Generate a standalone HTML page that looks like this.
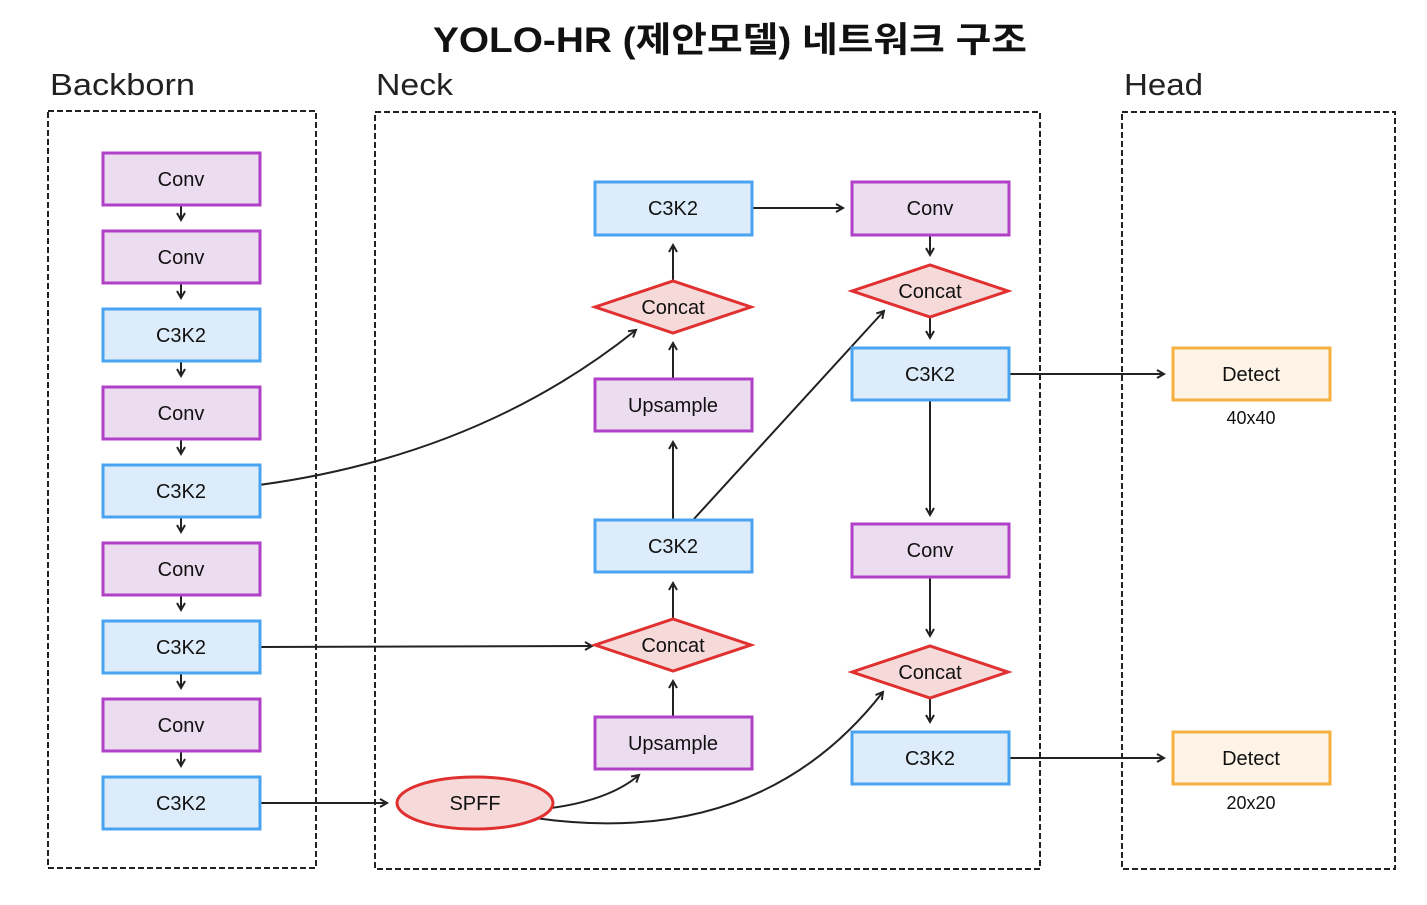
<!DOCTYPE html>
<html><head><meta charset="utf-8"><style>html,body{margin:0;padding:0;background:#fff}</style></head><body>
<svg width="1427" height="900" viewBox="0 0 1427 900" xmlns="http://www.w3.org/2000/svg" font-family="Liberation Sans, Noto Sans CJK KR, sans-serif">
<defs><marker id="a" markerWidth="10" markerHeight="10" refX="8" refY="5" orient="auto" markerUnits="userSpaceOnUse"><path d="M1,1 L8,5 L1,9" fill="none" stroke="#222" stroke-width="2"/></marker></defs>
<rect width="1427" height="900" fill="#fff"/>
<text x="433" y="52" textLength="594" lengthAdjust="spacingAndGlyphs" font-size="35" font-weight="bold" fill="#111">YOLO-HR (제안모델) 네트워크 구조</text>
<text x="50" y="95" textLength="145" lengthAdjust="spacingAndGlyphs" font-size="31" fill="#222">Backborn</text>
<text x="376" y="95" textLength="77" lengthAdjust="spacingAndGlyphs" font-size="31" fill="#222">Neck</text>
<text x="1124" y="95" textLength="79" lengthAdjust="spacingAndGlyphs" font-size="31" fill="#222">Head</text>
<g fill="none" stroke="#222" stroke-width="2" stroke-dasharray="6,3">
<rect x="48" y="111" width="268" height="757"/><rect x="375" y="112" width="665" height="757"/><rect x="1122" y="112" width="273" height="757"/></g>
<g stroke="#222" stroke-width="2" fill="none" marker-end="url(#a)">
<path d="M181,205V220"/><path d="M181,283V298"/><path d="M181,361V376"/><path d="M181,439V454"/><path d="M181,517V532"/><path d="M181,595V610"/><path d="M181,673V688"/><path d="M181,751V766"/>
<path d="M260,803H387"/>
<path d="M259,485 Q480,455 636,330"/>
<path d="M258,647 L592,646"/>
<path d="M551,808 Q610,800 639,775"/>
<path d="M535,818 Q760,850 883,692"/>
<path d="M673,717V681"/><path d="M673,619V583"/><path d="M673,520V442"/><path d="M673,379V343"/><path d="M673,281V245"/>
<path d="M693,520 L884,311"/>
<path d="M752,208H843"/>
<path d="M930,235V255"/><path d="M930,317V338"/><path d="M930,400V515"/><path d="M930,577V636"/><path d="M930,698V722"/>
<path d="M1009,374H1164"/><path d="M1009,758H1164"/>
</g>
<g stroke-width="3" font-size="20" text-anchor="middle" fill="#111">
<g stroke="#b040c8" fill="#ecdcf0">
<rect x="103" y="153" width="157" height="52"/><rect x="103" y="231" width="157" height="52"/><rect x="103" y="387" width="157" height="52"/><rect x="103" y="543" width="157" height="52"/><rect x="103" y="699" width="157" height="52"/>
<rect x="595" y="379" width="157" height="52"/><rect x="595" y="717" width="157" height="52"/>
<rect x="852" y="182" width="157" height="53"/><rect x="852" y="524" width="157" height="53"/></g>
<g stroke="#4aa3f0" fill="#dcecfa">
<rect x="103" y="309" width="157" height="52"/><rect x="103" y="465" width="157" height="52"/><rect x="103" y="621" width="157" height="52"/><rect x="103" y="777" width="157" height="52"/>
<rect x="595" y="182" width="157" height="53"/><rect x="595" y="520" width="157" height="52"/>
<rect x="852" y="348" width="157" height="52"/><rect x="852" y="732" width="157" height="52"/></g>
<g stroke="#e03030" fill="#f6dada">
<path d="M595,307 L673,281 L751,307 L673,333Z"/><path d="M595,645 L673,619 L751,645 L673,671Z"/>
<path d="M852,291 L930,265 L1008,291 L930,317Z"/><path d="M852,672 L930,646 L1008,672 L930,698Z"/>
<ellipse cx="475" cy="803" rx="78" ry="26"/></g>
<g stroke="#f5b040" fill="#fdf3e6"><rect x="1173" y="348" width="157" height="52"/><rect x="1173" y="732" width="157" height="52"/></g>
<g stroke="none" fill="#111">
<text x="181" y="186">Conv</text><text x="181" y="264">Conv</text><text x="181" y="342">C3K2</text><text x="181" y="420">Conv</text><text x="181" y="498">C3K2</text><text x="181" y="576">Conv</text><text x="181" y="654">C3K2</text><text x="181" y="732">Conv</text><text x="181" y="810">C3K2</text>
<text x="673" y="215">C3K2</text><text x="673" y="314">Concat</text><text x="673" y="412">Upsample</text><text x="673" y="553">C3K2</text><text x="673" y="652">Concat</text><text x="673" y="750">Upsample</text><text x="475" y="810">SPFF</text>
<text x="930" y="215">Conv</text><text x="930" y="298">Concat</text><text x="930" y="381">C3K2</text><text x="930" y="557">Conv</text><text x="930" y="679">Concat</text><text x="930" y="765">C3K2</text>
<text x="1251" y="381">Detect</text><text x="1251" y="765">Detect</text>
<text x="1251" y="424" font-size="18">40x40</text><text x="1251" y="809" font-size="18">20x20</text>
</g></g>
</svg>
</body></html>
